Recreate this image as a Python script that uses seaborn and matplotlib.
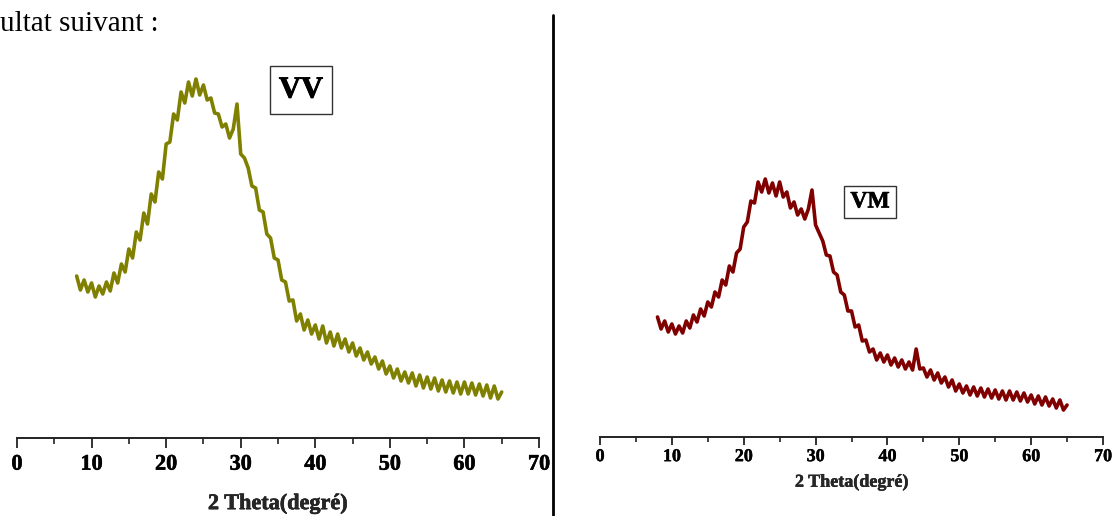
import numpy as np
import matplotlib.pyplot as plt
import seaborn as sns
from matplotlib.lines import Line2D
from matplotlib.ticker import MultipleLocator
import matplotlib.patheffects as pe

# 2 theta scan grid (deg), read every 0.5 deg off the two patterns
theta = [8.0, 8.5, 9.0, 9.5, 10.0, 10.5, 11.0, 11.5, 12.0, 12.5,
         13.0, 13.5, 14.0, 14.5, 15.0, 15.5, 16.0, 16.5, 17.0, 17.5,
         18.0, 18.5, 19.0, 19.5, 20.0, 20.5, 21.0, 21.5, 22.0, 22.5,
         23.0, 23.5, 24.0, 24.5, 25.0, 25.5, 26.0, 26.5, 27.0, 27.5,
         28.0, 28.5, 29.0, 29.5, 30.0, 30.5, 31.0, 31.5, 32.0, 32.5,
         33.0, 33.5, 34.0, 34.5, 35.0, 35.5, 36.0, 36.5, 37.0, 37.5,
         38.0, 38.5, 39.0, 39.5, 40.0, 40.5, 41.0, 41.5, 42.0, 42.5,
         43.0, 43.5, 44.0, 44.5, 45.0, 45.5, 46.0, 46.5, 47.0, 47.5,
         48.0, 48.5, 49.0, 49.5, 50.0, 50.5, 51.0, 51.5, 52.0, 52.5,
         53.0, 53.5, 54.0, 54.5, 55.0, 55.5, 56.0, 56.5, 57.0, 57.5,
         58.0, 58.5, 59.0, 59.5, 60.0, 60.5, 61.0, 61.5, 62.0, 62.5,
         63.0, 63.5, 64.0, 64.5, 65.0]

# intensities (a.u.)
vv_intensity = [162, 148, 158, 146, 155, 141, 152, 144, 156, 147,
                165, 155, 174, 166, 189, 180, 206, 198, 225, 214,
                244, 236, 266, 259, 294, 296, 324, 318, 346, 335,
                356, 342, 359, 343, 353, 338, 340, 325, 324, 311,
                314, 300, 309, 334, 284, 280, 270, 252, 250, 228,
                226, 204, 200, 180, 178, 158, 156, 137, 138, 117,
                124, 108, 118, 104, 113, 99, 112, 95, 106, 92,
                104, 90, 99, 86, 95, 82, 90, 78, 86, 74,
                81, 69, 77, 64, 72, 60, 69, 57, 66, 55,
                65, 52, 63, 50, 61, 49, 60, 47, 58, 46,
                57, 45, 56, 44, 56, 44, 55, 43, 54, 42,
                53, 40, 52, 39, 46]

vm_intensity = [120, 108, 116, 105, 113, 103, 111, 104, 116, 109,
                122, 115, 128, 121, 135, 130, 145, 140, 157, 152,
                171, 165, 184, 188, 210, 215, 236, 234, 255, 245,
                258, 244, 254, 241, 255, 240, 245, 229, 235, 222,
                228, 218, 228, 247, 212, 204, 196, 182, 181, 165,
                162, 145, 142, 126, 126, 110, 112, 96, 97, 85,
                88, 77, 84, 75, 82, 72, 79, 70, 77, 68,
                75, 67, 88, 68, 69, 60, 67, 57, 64, 54,
                60, 50, 57, 46, 53, 44, 51, 42, 50, 41,
                49, 40, 48, 39, 47, 38, 46, 37, 46, 37,
                45, 36, 44, 35, 42, 33, 41, 32, 40, 31,
                38, 29, 37, 27, 32]

x_ticks = [0, 10, 20, 30, 40, 50, 60, 70]

sns.set_style("ticks")
plt.rcParams['font.family'] = ['Liberation Serif', 'DejaVu Serif']
plt.rcParams['font.weight'] = 'bold'
plt.rcParams['text.color'] = 'black'
plt.rcParams['xtick.color'] = '#222222'
plt.rcParams['xtick.labelcolor'] = 'black'

W, H = 1112, 516
fig = plt.figure(figsize=(W / 100, H / 100), dpi=100)


def heavy(w):
    return [pe.withStroke(linewidth=w, foreground='black')]


def panel(rect, y, color, top, fs, pad, labelpad, tick_len, sw):
    ax = fig.add_axes(rect)
    sns.lineplot(x=theta, y=y, ax=ax, color=color, linewidth=2.6)
    ax.set_xlim(0, 70)
    ax.set_ylim(0, top)
    ax.set_xticks(x_ticks)
    ax.set_xticklabels([str(t) for t in x_ticks], fontsize=fs, fontweight='bold')
    for lab in ax.get_xticklabels():
        lab.set_path_effects(heavy(sw))
    ax.xaxis.set_minor_locator(MultipleLocator(5))
    ax.tick_params(axis='x', which='major', length=tick_len, width=1.3,
                   direction='out', pad=pad)
    ax.tick_params(axis='x', which='minor', length=tick_len * 0.6, width=1.2,
                   direction='out')
    ax.set_yticks([])
    ax.set_ylabel('')
    for s in ['left', 'right', 'top']:
        ax.spines[s].set_visible(False)
    ax.spines['bottom'].set_linewidth(1.4)
    ax.spines['bottom'].set_color('#222222')
    ax.set_xlabel('2 Theta(degré)', fontsize=fs, fontweight='bold',
                  labelpad=labelpad, path_effects=heavy(sw))
    ax.patch.set_alpha(0)
    return ax


# left pattern: axis from x=17 to 539 px, baseline at y=438 px
ax1 = panel([17 / W, (H - 438) / H, 522 / W, 378 / H], vv_intensity,
            '#808000', 378, 16, 5, 14, 7, 0.4)
# right pattern: axis from x=600 to 1103 px, baseline at y=437 px
ax2 = panel([600 / W, (H - 437) / H, 503 / W, 277 / H], vm_intensity,
            '#800000', 277, 13, 2, 6, 6, 0.3)

# sample name boxes
fig.text(301 / W, 1 - 90 / H, 'VV', fontsize=22, fontweight='bold',
         ha='center', va='center', path_effects=heavy(0.6),
         bbox=dict(boxstyle='square,pad=0.3', fc='white', ec='#333333', lw=1))
fig.text(870 / W, 1 - 202 / H, 'VM', fontsize=17, fontweight='bold',
         ha='center', va='center', path_effects=heavy(0.4),
         bbox=dict(boxstyle='square,pad=0.25', fc='white', ec='#333333', lw=1))

# surrounding document text and column separator
fig.text(0, 1 - 24 / H, 'ultat suivant :', fontsize=21, fontweight='normal',
         ha='left', va='center', color='black')
fig.add_artist(Line2D([553 / W, 553 / W], [0, 1 - 15 / H], color='black', lw=2))

fig.savefig('out.png', dpi=100)
